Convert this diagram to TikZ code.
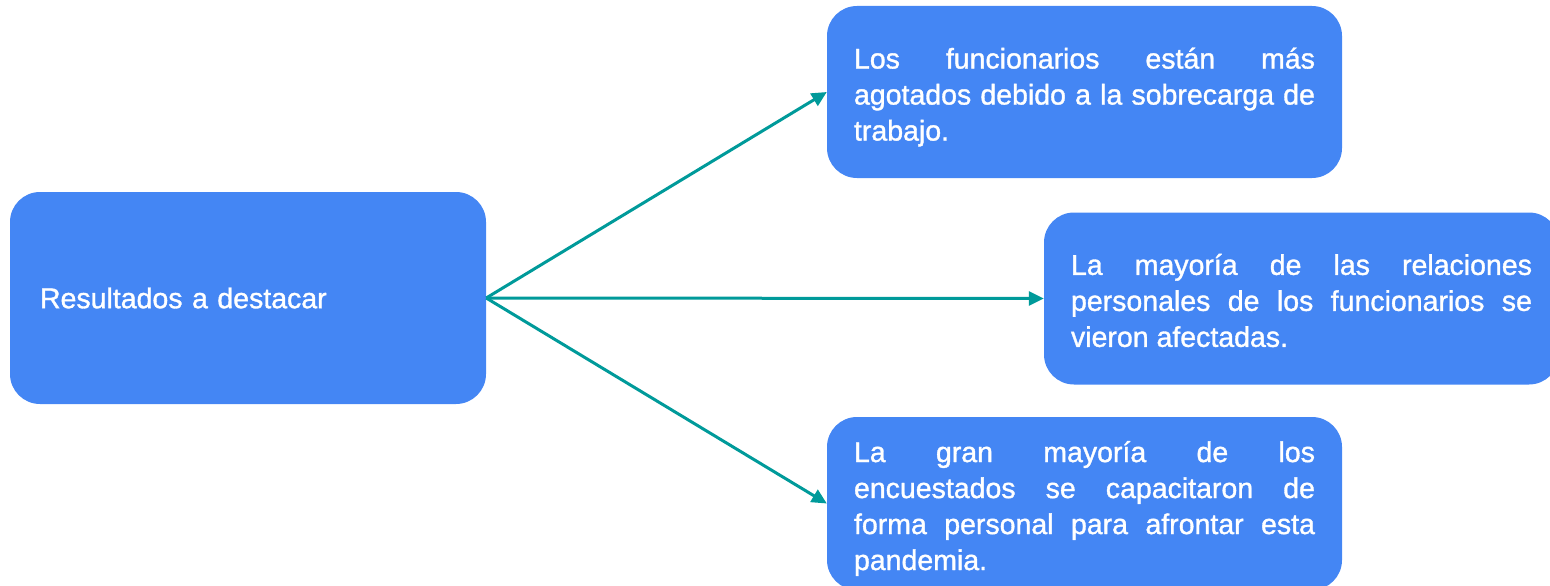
\documentclass[tikz,border=0pt]{standalone}
\usepackage{fontspec}
\setmainfont{Liberation Sans}
\newfontfamily\medfont{Liberation Sans}[FakeBold=1.2]
\usetikzlibrary{arrows.meta}
\definecolor{boxblue}{HTML}{4486F4}
\definecolor{arrowteal}{HTML}{009A9A}
\tikzset{
  resbox/.style={fill=boxblue, draw=none, rounded corners=30pt,
    minimum width=515pt, minimum height=172pt, inner sep=0pt},
  restext/.style={text=white, font=\medfont\fontsize{28.5}{36}\selectfont,
    text width=461pt, align=justify, inner sep=0pt},
  mainbox/.style={fill=boxblue, draw=none, rounded corners=30pt, text=white,
    font=\medfont\fontsize{28.5}{36}\selectfont, minimum width=476pt, minimum height=212pt,
    text width=416pt, align=left, inner sep=0pt},
  conn/.style={draw=arrowteal, line width=3pt,
    -{Triangle[length=15pt,width=14pt]}}
}
\begin{document}
\begin{tikzpicture}[x=1pt,y=-1pt]
\useasboundingbox (0,0) rectangle (1550,586);
\clip (0,0) rectangle (1550,586);
\node[mainbox] (L) at (248,298) {Resultados a destacar};
\node[resbox] (T) at (1084.5,92) {};
\node[restext] (Tt) at (1084.5,97) {Los funcionarios están más\linebreak agotados debido a la sobrecarga de\linebreak trabajo.};
\node[resbox] (M) at (1301.5,298.5) {};
\node[restext] (Mt) at (1301.5,300.5) {La mayoría de las relaciones\linebreak personales de los funcionarios se\linebreak vieron afectadas.};
\node[resbox, minimum height=173pt] (B) at (1084.5,503.5) {};
\node[restext] (Bt) at (1084.5,508.5) {La gran mayoría de los\linebreak encuestados se capacitaron de\linebreak forma personal para afrontar esta\linebreak pandemia.};
\draw[conn] (L.east) -- (T.west);
\draw[conn] (L.east) -- (M.west);
\draw[conn] (L.east) -- (B.west);
\end{tikzpicture}
\end{document}
